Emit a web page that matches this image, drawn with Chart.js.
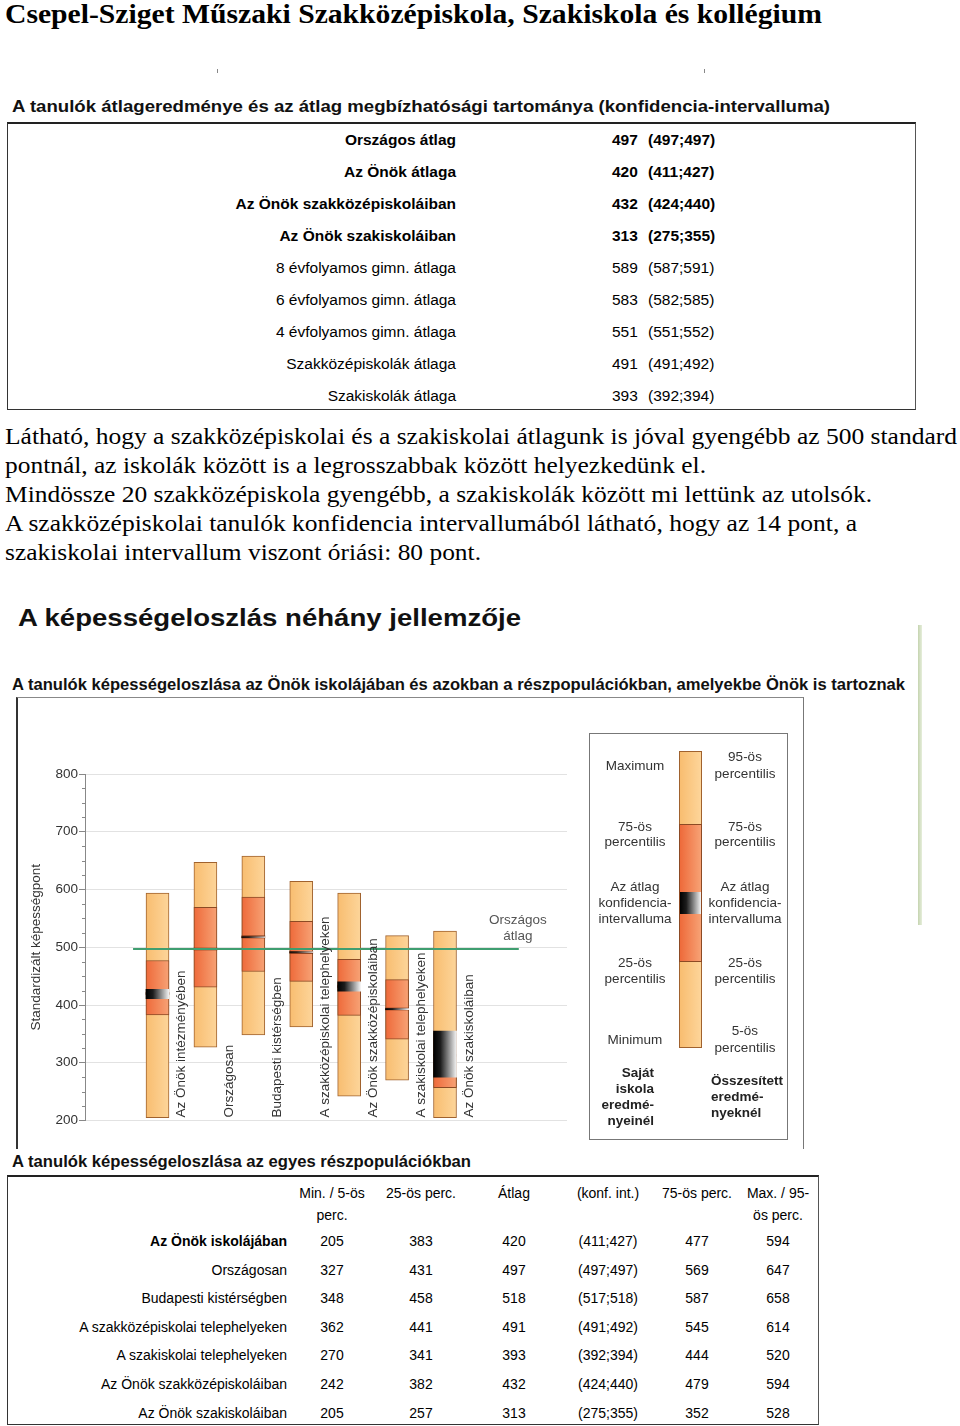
<!DOCTYPE html>
<html lang="hu">
<head>
<meta charset="utf-8">
<title>Képességeloszlás</title>
<script src="https://cdn.jsdelivr.net/npm/chart.js@4.4.1/dist/chart.umd.min.js"></script>
<style>
  html, body { margin: 0; padding: 0; background: #fff; }
  #page { position: relative; width: 960px; height: 1426px; overflow: hidden; }
  .t { position: absolute; white-space: nowrap; line-height: 1; }
  .box { position: absolute; box-sizing: border-box; }
  #chart { position: absolute; left: 17px; top: 698px; }
</style>
</head>
<body>
<div id="page">
  <canvas id="chart" width="785" height="447"></canvas>
</div>
<script>
// --- summary table (átlag + konfidencia-intervallum)
var summaryLabels = ['Országos átlag', 'Az Önök átlaga', 'Az Önök szakközépiskoláiban', 'Az Önök szakiskoláiban',
  '8 évfolyamos gimn. átlaga', '6 évfolyamos gimn. átlaga', '4 évfolyamos gimn. átlaga',
  'Szakközépiskolák átlaga', 'Szakiskolák átlaga'];
var summaryMeans = [497, 420, 432, 313, 589, 583, 551, 491, 393];
var summaryLow   = [497, 411, 424, 275, 587, 582, 551, 491, 392];
var summaryHigh  = [497, 427, 440, 355, 591, 585, 552, 492, 394];
var summaryBold  = [true, true, true, true, false, false, false, false, false];

// --- distribution chart (chart order)
var chartGroups = ['Az Önök intézményében', 'Országosan', 'Budapesti kistérségben',
  'A szakközépiskolai telephelyeken', 'Az Önök szakközépiskoláiban',
  'A szakiskolai telephelyeken', 'Az Önök szakiskoláiban'];
var minVals  = [205, 327, 348, 362, 242, 270, 205];
var p25Vals  = [383, 431, 458, 441, 382, 341, 257];
var meanVals = [420, 497, 518, 491, 432, 393, 313];
var ciLow    = [411, 497, 517, 491, 424, 392, 275];
var ciHigh   = [427, 497, 518, 492, 440, 394, 355];
var p75Vals  = [477, 569, 587, 545, 479, 444, 352];
var maxVals  = [594, 647, 658, 614, 594, 520, 528];
var nationalAvg = summaryMeans[0];
var yTicks = [200, 300, 400, 500, 600, 700, 800];

// --- second table (table order -> chart index)
var tableLabels = ['Az Önök iskolájában', 'Országosan', 'Budapesti kistérségben',
  'A szakközépiskolai telephelyeken', 'A szakiskolai telephelyeken',
  'Az Önök szakközépiskoláiban', 'Az Önök szakiskoláiban'];
var tableOrder = [0, 1, 2, 3, 5, 4, 6];
var colHeads1 = ['Min. / 5-ös', '25-ös perc.', 'Átlag', '(konf. int.)', '75-ös perc.', 'Max. / 95-'];
var colHeads2 = ['perc.', '', '', '', '', 'ös perc.'];

var SANS = 'Arial, "Liberation Sans", sans-serif';
var SERIF = '"Times New Roman", "Liberation Serif", serif';
var page = document.getElementById('page');

//put a line of text with its baseline at y, optionally squeezed to a width
function put(str, x, base, size, o) {
  o = o || {};
  var d = document.createElement('div');
  d.className = 't';
  d.textContent = str;
  d.style.fontFamily = o.serif ? SERIF : SANS;
  d.style.fontSize = size + 'px';
  if (o.bold) d.style.fontWeight = 'bold';
  d.style.color = o.color || '#111';
  page.appendChild(d);
  var nw = d.getBoundingClientRect().width;
  var s = o.w ? o.w / nw : 1;
  var fw = nw * s;
  var align = o.align || 'left';
  var left = align === 'left' ? x : (align === 'right' ? x - fw : x - fw / 2);
  d.style.left = left + 'px';
  d.style.top = (base - (o.serif ? 0.8375 : 0.8465) * size) + 'px';
  if (s !== 1) { d.style.transformOrigin = '0 0'; d.style.transform = 'scaleX(' + s + ')'; }
  return d;
}

function box(l, t, w, h, css) {
  var d = document.createElement('div');
  d.className = 'box';
  d.style.left = l + 'px'; d.style.top = t + 'px';
  d.style.width = w + 'px'; d.style.height = h + 'px';
  for (var k in css) d.style[k] = css[k];
  page.appendChild(d);
  return d;
}

//Title and stray marks
put('Csepel-Sziget Műszaki Szakközépiskola, Szakiskola és kollégium', 5, 23, 26.5, {serif: true, bold: true, w: 817, color: '#000'});
box(217, 69, 1, 4, {background: '#888'});
box(704, 69, 1, 4, {background: '#888'});

//First table
put('A tanulók átlageredménye és az átlag megbízhatósági tartománya (konfidencia-intervalluma)', 12, 112, 17, {bold: true, w: 818});
box(7, 122, 909, 288, {borderTop: '2px solid #222', borderLeft: '1px solid #333', borderRight: '1px solid #555', borderBottom: '1px solid #333'});
summaryLabels.forEach(function (lab, i) {
  var b = 145.5 + 32 * i;
  var f = {bold: summaryBold[i], align: 'right', color: '#000'};
  put(lab, 456, b, 15.5, f);
  put(String(summaryMeans[i]), 612, b, 15.5, {bold: summaryBold[i], color: '#000'});
  put('(' + summaryLow[i] + ';' + summaryHigh[i] + ')', 648, b, 15.5, {bold: summaryBold[i], color: '#000'});
});

//Paragraph
var para = [
  ['Látható, hogy a szakközépiskolai és a szakiskolai átlagunk is jóval gyengébb az 500 standard', 952],
  ['pontnál, az iskolák között is a legrosszabbak között helyezkedünk el.', 701],
  ['Mindössze 20 szakközépiskola gyengébb, a szakiskolák között mi lettünk az utolsók.', 867],
  ['A szakközépiskolai tanulók konfidencia intervallumából látható, hogy az 14 pont, a', 852],
  ['szakiskolai intervallum viszont óriási: 80 pont.', 476]
];
para.forEach(function (p, i) {
  put(p[0], 5, 445 + 28.9 * i, 22.5, {serif: true, w: p[1], color: '#000'});
});

//Second section
put('A képességeloszlás néhány jellemzője', 18, 627, 24.5, {bold: true, w: 503});
box(918, 625, 4, 300, {background: 'linear-gradient(to right, #c5d4b0, #e6eedb)'});
put('A tanulók képességeloszlása az Önök iskolájában és azokban a részpopulációkban, amelyekbe Önök is tartoznak', 12, 690, 17, {bold: true, w: 893});
box(16, 697, 788, 452, {borderTop: '1px solid #888', borderLeft: '2px solid #333', borderRight: '1px solid #777'});

//Legend
box(589, 733, 199, 407, {border: '1px solid #777'});
var lightGrad = 'linear-gradient(to right, #f8bd70, #fdd59a)';
var redGrad = 'linear-gradient(to right, #ee6a3a, #f7a275)';
var ciGrad = 'linear-gradient(to right, #000, #1c1c1c 30%, #f4f4f4)';
box(679, 751, 23, 297, {background: lightGrad, border: '1px solid #a0622e'});
box(679, 824, 23, 138, {background: redGrad, border: '1px solid #8c4a24'});
box(680, 892, 21, 22, {background: ciGrad});
var legL = [['Maximum', 766], ['75-ös', 827], ['percentilis', 842], ['Az átlag', 887], ['konfidencia-', 903],
  ['intervalluma', 919], ['25-ös', 963], ['percentilis', 979], ['Minimum', 1040]];
var legR = [['95-ös', 757], ['percentilis', 774], ['75-ös', 827], ['percentilis', 842], ['Az átlag', 887],
  ['konfidencia-', 903], ['intervalluma', 919], ['25-ös', 963], ['percentilis', 979], ['5-ös', 1031], ['percentilis', 1048]];
legL.forEach(function (l) { put(l[0], 635, l[1] + 4.5, 13.5, {align: 'center', color: '#333'}); });
legR.forEach(function (l) { put(l[0], 745, l[1] + 4.5, 13.5, {align: 'center', color: '#333'}); });
[['Saját', 1073], ['iskola', 1089], ['eredmé-', 1105], ['nyeinél', 1121]].forEach(function (l) {
  put(l[0], 654, l[1] + 4.5, 13.5, {align: 'right', bold: true, color: '#222'});
});
[['Összesített', 1081], ['eredmé-', 1097], ['nyeknél', 1113]].forEach(function (l) {
  put(l[0], 711, l[1] + 4.5, 13.5, {bold: true, color: '#222'});
});

//Second table
put('A tanulók képességeloszlása az egyes részpopulációkban', 12, 1167, 17, {bold: true, w: 459});
box(7, 1175, 812, 250, {borderTop: '2px solid #222', borderLeft: '1px solid #333', borderRight: '1px solid #555', borderBottom: '1px solid #333'});
var colX = [332, 421, 514, 608, 697, 778];
colHeads1.forEach(function (h, c) {
  put(h, colX[c], 1198, 14, {align: 'center', color: '#000'});
  if (colHeads2[c]) put(colHeads2[c], colX[c], 1219.5, 14, {align: 'center', color: '#000'});
});
tableLabels.forEach(function (lab, r) {
  var i = tableOrder[r];
  var b = 1246 + 28.58 * r;
  put(lab, 287, b, 14, {align: 'right', bold: r === 0, color: '#000'});
  var vals = [minVals[i], p25Vals[i], meanVals[i], '(' + ciLow[i] + ';' + ciHigh[i] + ')', p75Vals[i], maxVals[i]];
  vals.forEach(function (v, c) { put(String(v), colX[c], b, 14, {align: 'center', color: '#000'}); });
});

//Chart
var BAR_W = 23;
var MEAN_HALF = 1.7;
var LINE_FROM = -0.51, LINE_TO = 7.54;

function barGrad(stops, fallback) {
  return function (c) {
    var chart = c.chart;
    var xs = chart.scales.x;
    if (!chart.chartArea || !xs || !c.raw) return fallback;
    var cx = xs.getPixelForValue(c.raw.x);
    var g = chart.ctx.createLinearGradient(cx - BAR_W / 2, 0, cx + BAR_W / 2, 0);
    stops.forEach(function (s) { g.addColorStop(s[0], s[1]); });
    return g;
  };
}

function pairs(lo, hi) {
  return chartGroups.map(function (g, i) { return {x: i, y: [lo[i], hi[i]]}; });
}

var extras = {
  id: 'extras',
  afterDatasetsDraw: function (chart) {
    var ctx = chart.ctx, x = chart.scales.x, y = chart.scales.y, a = chart.chartArea;
    ctx.save();
    //minor ticks every 25
    ctx.strokeStyle = '#888';
    ctx.lineWidth = 1;
    for (var v = yTicks[0]; v < yTicks[yTicks.length - 1]; v += 25) {
      if (v % 100 === 0) continue;
      var py = Math.round(y.getPixelForValue(v)) + 0.5;
      ctx.beginPath(); ctx.moveTo(a.left - 3, py); ctx.lineTo(a.left, py); ctx.stroke();
    }
    //national average line
    var ny = y.getPixelForValue(nationalAvg);
    ctx.strokeStyle = '#3f9e70';
    ctx.lineWidth = 2;
    ctx.beginPath(); ctx.moveTo(x.getPixelForValue(LINE_FROM), ny); ctx.lineTo(x.getPixelForValue(LINE_TO), ny); ctx.stroke();
    ctx.fillStyle = '#555';
    ctx.font = '13.5px ' + SANS;
    ctx.textAlign = 'center';
    ctx.textBaseline = 'alphabetic';
    var lx = x.getPixelForValue(LINE_TO) - 1;
    ctx.fillText('Országos', lx, ny - 24.5);
    ctx.fillText('átlag', lx, ny - 8.5);
    //group names beside the bars
    ctx.fillStyle = '#333';
    ctx.textAlign = 'left';
    ctx.textBaseline = 'middle';
    chartGroups.forEach(function (g, i) {
      ctx.save();
      ctx.translate(x.getPixelForValue(i) + 24, y.getPixelForValue(yTicks[0]) - 3);
      ctx.rotate(-Math.PI / 2);
      ctx.fillText(g, 0, 0);
      ctx.restore();
    });
    ctx.restore();
  }
};

var common = {barThickness: BAR_W, grouped: false, borderSkipped: false};
function ds(o) { for (var k in common) if (!(k in o)) o[k] = common[k]; return o; }

var chart = new Chart(document.getElementById('chart').getContext('2d'), {
  type: 'bar',
  data: {
    datasets: [
      ds({label: 'min-max', data: pairs(minVals, maxVals),
        backgroundColor: barGrad([[0, '#f8bd70'], [1, '#fdd59a']], '#fac985'),
        borderColor: '#a0622e', borderWidth: 1, order: 4}),
      ds({label: '25-75', data: pairs(p25Vals, p75Vals),
        backgroundColor: barGrad([[0, '#ee6a3a'], [1, '#f7a275']], '#f28656'),
        borderColor: '#8c4a24', borderWidth: 1, order: 3}),
      ds({label: 'átlag', data: chartGroups.map(function (g, i) { return {x: i, y: [meanVals[i] - MEAN_HALF, meanVals[i] + MEAN_HALF]}; }),
        backgroundColor: '#6b2e12', borderWidth: 0, order: 2}),
      ds({label: 'konf. int.', data: pairs(ciLow, ciHigh),
        backgroundColor: barGrad([[0, '#000'], [0.3, '#1c1c1c'], [1, '#f4f4f4']], '#555'),
        borderWidth: 0, order: 1})
    ]
  },
  options: {
    responsive: false,
    animation: false,
    layout: {padding: {top: 76, right: 235, bottom: 24.5, left: 0}},
    plugins: {legend: {display: false}, tooltip: {enabled: false}},
    scales: {
      x: {type: 'linear', min: -1.513, max: 8.546, offset: false, display: false},
      y: {
        min: yTicks[0], max: yTicks[yTicks.length - 1],
        afterFit: function (s) { s.width = 68; },
        afterBuildTicks: function (s) { s.ticks = yTicks.map(function (v) { return {value: v}; }); },
        ticks: {color: '#333', font: {size: 13.5, family: SANS}, padding: 1},
        grid: {color: '#e2e2e2', tickColor: '#888', tickLength: 6},
        border: {color: '#888'},
        title: {display: true, text: 'Standardizált képességpont', color: '#333',
          font: {size: 13.5, family: SANS}, padding: {top: 11, bottom: 0}}
      }
    }
  },
  plugins: [extras]
});
</script>
</body>
</html>
